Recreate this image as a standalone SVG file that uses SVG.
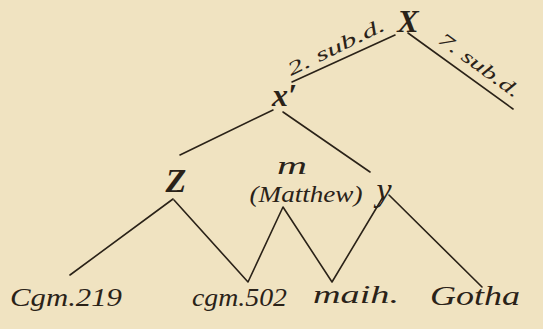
<svg xmlns="http://www.w3.org/2000/svg" width="543" height="329" viewBox="0 0 543 329">
<style>
.bg{fill:#f0e3c1}
.t{font-family:"Liberation Serif","DejaVu Serif",serif;font-style:italic;fill:#2a2218}
.c line,.c polyline{stroke:#2a2218;stroke-width:1.6;fill:none;stroke-linecap:round;stroke-linejoin:round}
</style>
<rect class="bg" x="0" y="0" width="543" height="329"/>
<g class="c" id="connectors">
<line x1="395" y1="35" x2="292" y2="82"/>
<line x1="408" y1="33" x2="513" y2="109"/>
<line x1="273" y1="110" x2="180" y2="155"/>
<line x1="283" y1="112" x2="370" y2="172"/>
<line x1="173" y1="199" x2="70" y2="275"/>
<polyline points="174,200 248,282 283,207 332,282 383,197"/>
<line x1="389" y1="195" x2="482" y2="287"/>
</g>
<g id="root">
<text class="t" x="408" y="32" font-size="32" font-weight="bold" text-anchor="middle">X</text>
</g>
<g id="label-left">
<text class="t" transform="translate(291,76) rotate(-26)" font-size="19" textLength="106" lengthAdjust="spacingAndGlyphs">2. sub.d.</text>
</g>
<g id="label-right">
<text class="t" transform="translate(437,42) rotate(36)" font-size="19" textLength="96" lengthAdjust="spacingAndGlyphs">7. sub.d.</text>
</g>
<g id="xprime">
<text class="t" x="272" y="106" font-size="32" font-weight="bold">x′</text>
</g>
<g id="Z">
<text class="t" x="176" y="192" font-size="34" font-weight="bold" text-anchor="middle">Z</text>
</g>
<g id="m">
<text class="t" x="277" y="174" font-size="26" textLength="30" lengthAdjust="spacingAndGlyphs">m</text>
<text class="t" x="306" y="202" font-size="23" text-anchor="middle" textLength="113" lengthAdjust="spacingAndGlyphs">(Matthew)</text>
</g>
<g id="y">
<text class="t" x="384" y="201" font-size="34" text-anchor="middle">y</text>
</g>
<g id="cgm219">
<text class="t" x="10" y="306" font-size="26" textLength="112" lengthAdjust="spacingAndGlyphs">Cgm.219</text>
</g>
<g id="cgm502">
<text class="t" x="192" y="306" font-size="26" textLength="95" lengthAdjust="spacingAndGlyphs">cgm.502</text>
</g>
<g id="maih">
<text class="t" x="313" y="303" font-size="26" textLength="86" lengthAdjust="spacingAndGlyphs">maih.</text>
</g>
<g id="gotha">
<text class="t" x="430" y="305" font-size="28" textLength="90" lengthAdjust="spacingAndGlyphs">Gotha</text>
</g>
</svg>
